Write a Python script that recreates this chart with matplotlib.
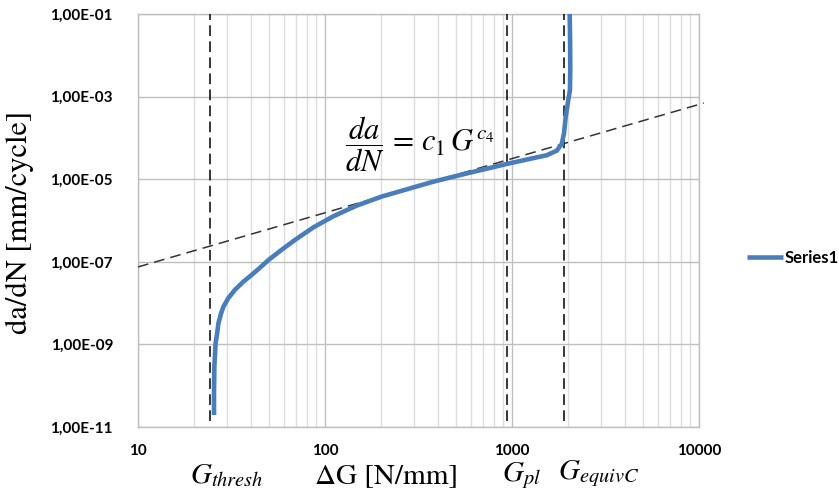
import matplotlib
matplotlib.use("Agg")
import matplotlib.pyplot as plt
from matplotlib.ticker import FixedLocator, NullFormatter, NullLocator

plt.rcParams['mathtext.fontset'] = 'stix'

# ---- data ----
curve_G = [25.5, 25.5, 25.6, 26.0, 26.5, 26.9, 27.8, 28.6, 30.4, 33.0, 36.6, 40.5,
           44.9, 49.8, 58.6, 69.2, 86.6, 110.6, 147.7, 201, 252, 379, 573, 937,
           1300, 1533, 1735, 1845, 1897, 1937, 2000, 2042, 2050, 2045, 2035]
curve_dadN = [1.95e-11, 6.3e-11, 2.9e-10, 1.07e-9, 1.86e-9, 3.2e-9, 5.6e-9, 8.1e-9,
              1.32e-8, 2.1e-8, 3.3e-8, 4.8e-8, 7.2e-8, 1.1e-7, 1.95e-7, 3.4e-7,
              6.8e-7, 1.26e-6, 2.29e-6, 3.8e-6, 5.1e-6, 8.7e-6, 1.38e-5, 2.34e-5,
              3.24e-5, 3.8e-5, 4.9e-5, 7.1e-5, 1.29e-4, 3.2e-4, 8.3e-4, 1.45e-3,
              5.0e-3, 2.5e-2, 1.0e-1]

fit_G = [10, 10600]
fit_dadN = [7.5e-8, 6.97e-4]

G_thresh = 24.3
G_pl = 936
G_equivC = 1897
vline_span = [1.4e-11, 1e-1]

x_ticks = [10, 100, 1000, 10000]
x_ticklabels = ["10", "100", "1000", "10000"]
y_ticks = [1e-11, 1e-9, 1e-7, 1e-5, 1e-3, 1e-1]
y_ticklabels = ["1,00E-11", "1,00E-09", "1,00E-07", "1,00E-05", "1,00E-03", "1,00E-01"]
series_name = "Series1"

# ---- figure ----
fig = plt.figure(figsize=(8.39, 4.95), dpi=100)
ax = fig.add_axes([138/839, 1-427/495, (699-138)/839, (427-14)/495])
ax.set_xscale('log')
ax.set_yscale('log')
ax.set_xlim(10, 10000)
ax.set_ylim(1e-11, 1e-1)

# grid
minor_x = [m * 10**e for e in (1, 2, 3) for m in range(2, 10)]
ax.xaxis.set_major_locator(FixedLocator(x_ticks))
ax.xaxis.set_minor_locator(FixedLocator(minor_x))
ax.xaxis.set_minor_formatter(NullFormatter())
ax.yaxis.set_major_locator(FixedLocator(y_ticks))
ax.yaxis.set_minor_locator(NullLocator())
ax.grid(True, which='major', color='#BFBFBF', linewidth=1.0)
ax.grid(True, which='minor', axis='x', color='#DDDDDD', linewidth=1.0)
ax.set_axisbelow(True)
for s in ax.spines.values():
    s.set_color('#BFBFBF')
    s.set_linewidth(1.0)
ax.tick_params(which='both', length=0)

tick_font = dict(family='Lato', weight='bold', size=11)
ax.set_xticks(x_ticks)
ax.set_xticklabels(x_ticklabels, **tick_font)
ax.set_yticks(y_ticks)
ax.set_yticklabels(y_ticklabels, **tick_font)
ax.tick_params(axis='x', pad=12)
ax.tick_params(axis='y', pad=18)

# lines
ax.plot(fit_G, fit_dadN, color='#333333', linestyle=(0, (7, 4)), linewidth=1.1,
        clip_on=False, zorder=3)
for gv in (G_thresh, G_pl, G_equivC):
    ax.plot([gv, gv], vline_span, color='black', linestyle=(0, (7, 3.5)), linewidth=1.1, zorder=3)
line, = ax.plot(curve_G, curve_dadN, color='#4A7EBB', linewidth=3.3,
                solid_capstyle='butt', solid_joinstyle='round', zorder=4, label=series_name)

# equation
ax.text((345-138)/561, (427-144)/413, r'$\dfrac{da}{dN} \,=\, c_1\, G^{c_4}$',
        transform=ax.transAxes, fontsize=22, ha='left', va='center')

# axis labels
fig.text(20/839, 1-222/495, 'da/dN [mm/cycle]', rotation=90, ha='center', va='center',
         family='STIXGeneral', fontsize=22)
fig.text(387/839, 1-477/495, r'ΔG [N/mm]', ha='center', va='center',
         family='STIXGeneral', fontsize=21)
fig.text(227/839, 1-475/495, r'$G_{thresh}$', ha='center', va='center', fontsize=21)
fig.text(521/839, 1-476/495, r'$G_{pl}$', ha='center', va='center', fontsize=21)
fig.text(599/839, 1-474/495, r'$G_{equivC}$', ha='center', va='center', fontsize=21)

# legend
leg = fig.legend(handles=[line], loc='center left', bbox_to_anchor=(740/839, 1-258/495),
                 frameon=False, handlelength=2.2, handletextpad=0.1, borderaxespad=0,
                 prop=dict(family='Lato', weight='bold', size=12))

fig.savefig('out.png', dpi=100)
